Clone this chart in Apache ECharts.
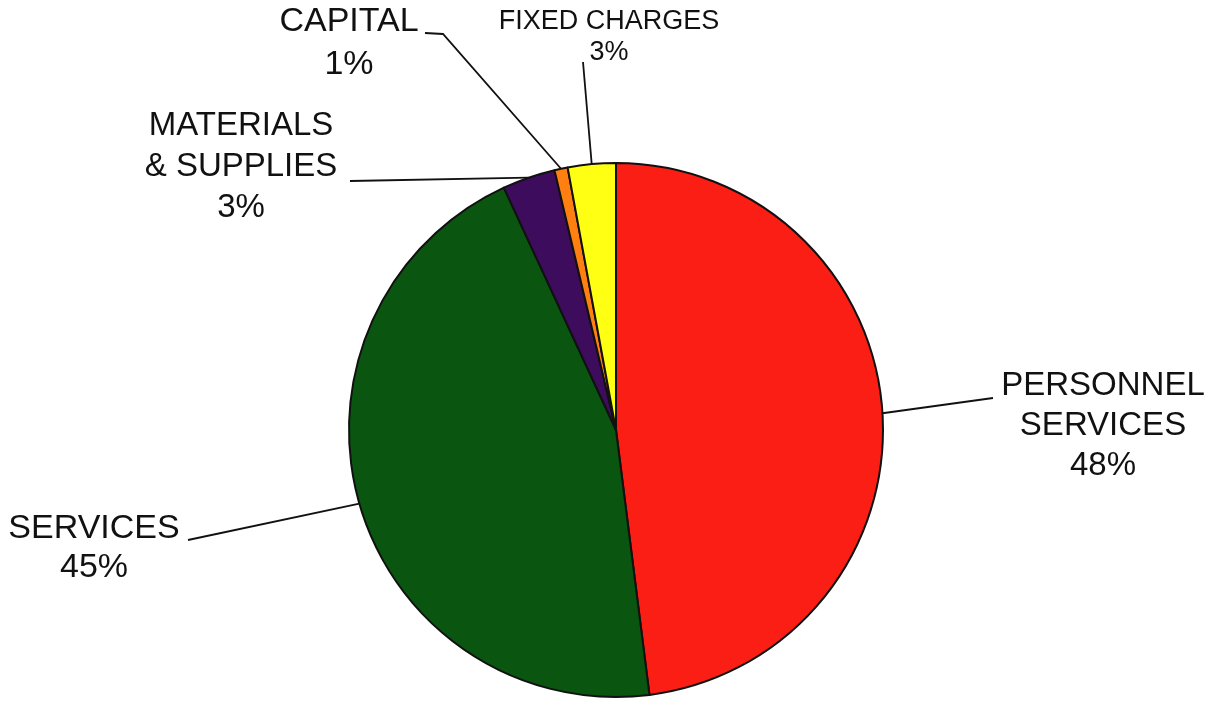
<!DOCTYPE html>
<html>
<head>
<meta charset="utf-8">
<script src="https://cdn.jsdelivr.net/npm/echarts@6/dist/echarts.min.js"></script>
<style>
  html, body { margin: 0; padding: 0; background: #ffffff; }
  #chart { width: 1216px; height: 703px; }
</style>
</head>
<body>
<div id="chart"></div>
<script>
// ---- Data ----
const categories = ['PERSONNEL\nSERVICES', 'SERVICES', 'MATERIALS\n& SUPPLIES', 'CAPITAL', 'FIXED CHARGES'];
const shares = [48.0, 45.1, 3.2, 0.8, 2.9];
const colors = ['#fa1e14', '#0a5510', '#3d0c5c', '#ff7f10', '#ffff14'];

// ---- Layout (label anchors and leader-line elbows, in pixels) ----
const PIE_CENTER = [616, 430];
const PIE_RADIUS = 267;
const labelStyles = [
  { x: 1103, y: 426, size: 33, lh: 40, line: [[993, 398]] },
  { x: 94,   y: 548, size: 34, lh: 39, line: [[188, 540]] },
  { x: 241,  y: 167, size: 33, lh: 41, line: [[350, 181]] },
  { x: 349,  y: 43,  size: 34, lh: 43, line: [[443, 34], [425, 33]] },
  { x: 609,  y: 37,  size: 27, lh: 31, line: [[583, 62]] }
];

// mid-angle edge point of each slice (start at 12 o'clock, clockwise)
const total = shares.reduce((a, b) => a + b, 0);
function edgePoint(i) {
  let before = 0;
  for (let k = 0; k < i; k++) before += shares[k];
  const mid = (before + shares[i] / 2) / total * 2 * Math.PI;
  return [PIE_CENTER[0] + PIE_RADIUS * Math.sin(mid), PIE_CENTER[1] - PIE_RADIUS * Math.cos(mid)];
}

const data = categories.map((name, i) => ({
  name: name,
  value: shares[i],
  itemStyle: { color: colors[i] },
  label: { fontSize: labelStyles[i].size, lineHeight: labelStyles[i].lh }
}));

const chart = echarts.init(document.getElementById('chart'), null, { renderer: 'canvas' });
chart.setOption({
  backgroundColor: '#ffffff',
  animation: false,
  series: [{
    type: 'pie',
    center: PIE_CENTER,
    radius: PIE_RADIUS,
    startAngle: 90,
    clockwise: true,
    avoidLabelOverlap: false,
    data: data,
    itemStyle: { borderColor: '#111111', borderWidth: 2 },
    label: {
      show: true,
      position: 'outside',
      color: '#111111',
      fontFamily: '"Liberation Sans", Arial, sans-serif',
      align: 'center',
      formatter: p => p.name + '\n' + Math.round(p.percent) + '%'
    },
    labelLine: { show: true, lineStyle: { color: '#111111', width: 1.8 } },
    labelLayout: function (params) {
      const i = params.dataIndex;
      const s = labelStyles[i];
      return {
        x: s.x,
        y: s.y,
        align: 'center',
        verticalAlign: 'middle',
        labelLinePoints: [edgePoint(i)].concat(s.line)
      };
    }
  }]
});
</script>
</body>
</html>
